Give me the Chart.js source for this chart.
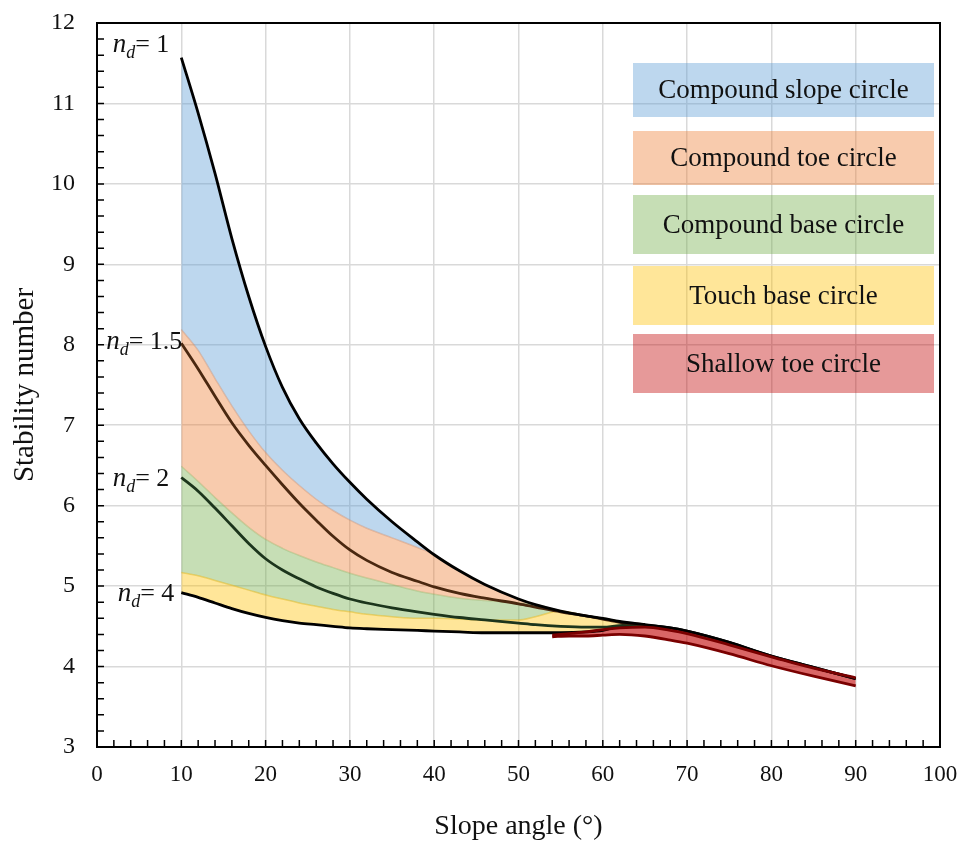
<!DOCTYPE html>
<html><head><meta charset="utf-8">
<script src="https://cdn.jsdelivr.net/npm/chart.js@4.4.1/dist/chart.umd.min.js"></script>
<style>html,body{margin:0;padding:0;background:#fff}#wrap{width:965px;height:843px;position:relative}</style>
</head><body><div id="wrap"><canvas id="c"></canvas></div>
<script>
// ---- data ----
const angles = [10,12,14,16,18,20,22,24,26,28,30,32,35,38,40,43,46,50,52,55,58,60,62,65,68,70,75,80,85,90];
// n_d = 1 curve (upper envelope, top of "Compound slope circle")
const nd1 = [11.57,10.88,10.13,9.32,8.6,7.98,7.47,7.08,6.78,6.52,6.29,6.08,5.8,5.55,5.39,5.19,5.02,4.84,4.77,4.69,4.63,4.6,4.56,4.52,4.48,4.44,4.3,4.13,3.99,3.85];
// lower edge of compound slope region / upper edge of compound toe region
const slopeLower = [8.19,7.93,7.58,7.24,6.93,6.66,6.44,6.25,6.08,5.94,5.82,5.72,5.6,5.48,5.39,5.19,5.02,4.84,4.77,4.69,4.63,4.6,4.56,4.52,4.48,4.44,4.3,4.13,3.99,3.85];
// lower edge of compound toe region / upper edge of compound base region
const toeLower = [6.49,6.3,6.1,5.91,5.73,5.58,5.47,5.38,5.3,5.23,5.16,5.1,5.02,4.94,4.9,4.85,4.82,4.79,4.77,4.69,4.63,4.6,4.56,4.52,4.48,4.44,4.3,4.13,3.99,3.85];
// lower edge of compound base region / upper edge of touch base region
const baseLower = [5.17,5.13,5.07,5.01,4.95,4.89,4.84,4.79,4.75,4.71,4.68,4.65,4.62,4.6,4.6,4.59,4.58,4.58,4.62,4.69,4.63,4.6,4.56,4.52,4.48,4.44,4.3,4.13,3.99,3.85];
// n_d = 4 curve (lower edge of touch base region)
const nd4 = [4.92,4.86,4.79,4.72,4.66,4.61,4.57,4.54,4.52,4.5,4.48,4.47,4.46,4.45,4.44,4.43,4.42,4.42,4.42,4.42,4.43,4.45,4.5,4.51,4.48,4.44,4.3,4.13,3.99,3.85];
// n_d = 1.5 and n_d = 2 curves (to x = 65)
const nd15 = [8.02,7.7,7.36,7.03,6.75,6.5,6.26,6.03,5.82,5.62,5.45,5.32,5.17,5.06,4.99,4.91,4.85,4.78,4.74,4.68,4.63,4.59,4.55,4.52];
const nd2 = [6.35,6.18,5.97,5.75,5.53,5.34,5.2,5.09,4.99,4.91,4.84,4.79,4.73,4.68,4.65,4.61,4.58,4.54,4.52,4.5,4.49,4.49,4.51,4.52];
// shallow toe circle band
const shallowAngles = [54,56,58,60,62,65,68,70,75,80,85,90];
const shallowUpper = [4.39,4.41,4.43,4.46,4.48,4.49,4.45,4.41,4.27,4.12,3.98,3.86];
const shallowLower = [4.37,4.38,4.38,4.39,4.4,4.38,4.33,4.29,4.16,4.01,3.88,3.76];

const xTickValues = [0,10,20,30,40,50,60,70,80,90,100];
const yTickValues = [3,4,5,6,7,8,9,10,11,12];
const legendLabels = ['Compound slope circle','Compound toe circle','Compound base circle','Touch base circle','Shallow toe circle'];
const ndLabels = ['1','1.5','2','4'];

// ---- styles ----
const SERIF = '"Liberation Serif", "Times New Roman", serif';
const C_BLUE = 'rgba(91,155,213,0.4)';
const C_ORANGE = 'rgba(237,125,49,0.4)';
const C_GREEN = 'rgba(112,173,71,0.4)';
const C_YELLOW = 'rgba(255,192,0,0.4)';
const C_RED = 'rgba(192,0,0,0.4)';

function pts(xs, ys){ return ys.map((v,i)=>({x:xs[i], y:v})); }

const base = {pointRadius:0, pointHoverRadius:0, cubicInterpolationMode:'monotone', fill:false};

const datasets = [
  Object.assign({}, base, {label:'shallowUpper', data:pts(shallowAngles, shallowUpper), borderColor:'#7a0000', borderWidth:2.8}),
  Object.assign({}, base, {label:'shallowLower', data:pts(shallowAngles, shallowLower), borderColor:'#7a0000', borderWidth:2.8, fill:0, backgroundColor:'rgba(192,0,0,0.6)'}),
  Object.assign({}, base, {label:'nd1', data:pts(angles, nd1), borderColor:'#000', borderWidth:2.8}),
  Object.assign({}, base, {label:'nd15', data:pts(angles, nd15), borderColor:'#4a2810', borderWidth:2.8}),
  Object.assign({}, base, {label:'nd2', data:pts(angles, nd2), borderColor:'#1c351c', borderWidth:2.8}),
  Object.assign({}, base, {label:'nd4', data:pts(angles, nd4), borderColor:'#000', borderWidth:2.8, fill:6, backgroundColor:C_YELLOW}),
  Object.assign({}, base, {label:'baseLower', data:pts(angles, baseLower), borderColor:'rgba(225,185,40,0.55)', borderWidth:1.5, fill:7, backgroundColor:C_GREEN}),
  Object.assign({}, base, {label:'toeLower', data:pts(angles, toeLower), borderColor:'rgba(150,170,90,0.35)', borderWidth:1.5, fill:8, backgroundColor:C_ORANGE}),
  Object.assign({}, base, {label:'slopeLower', data:pts(angles, slopeLower), borderColor:'rgba(200,140,110,0.4)', borderWidth:1.5, fill:2, backgroundColor:C_BLUE})
];

const decor = {
  id:'decor',
  afterDatasetsDraw(chart){
    const {ctx, chartArea:ca, scales} = chart;
    const xs = scales.x, ys = scales.y;
    ctx.save();
    // inward ticks
    ctx.strokeStyle = '#000'; ctx.lineWidth = 1.5;
    ctx.beginPath();
    for (let v = 0; v <= 100; v += 2){
      const px = xs.getPixelForValue(v);
      ctx.moveTo(px, ca.bottom); ctx.lineTo(px, ca.bottom - 7);
    }
    for (let i = 0; i <= 45; i++){
      const py = ys.getPixelForValue(3 + i*0.2);
      ctx.moveTo(ca.left, py); ctx.lineTo(ca.left + 7, py);
    }
    ctx.stroke();
    // frame
    ctx.lineWidth = 2;
    ctx.strokeRect(ca.left, ca.top, ca.right - ca.left, ca.bottom - ca.top);

    // legend boxes
    const boxes = [[63,117],[131,185],[195,254],[266,325],[334,393]];
    const cols = [C_BLUE, C_ORANGE, C_GREEN, C_YELLOW, C_RED];
    const bl = ca.left + 536, br = ca.left + 837;
    ctx.textAlign = 'center'; ctx.textBaseline = 'middle';
    ctx.font = '27px ' + SERIF;
    boxes.forEach((b,i)=>{
      ctx.fillStyle = cols[i];
      ctx.fillRect(bl, b[0], br - bl, b[1] - b[0]);
      ctx.fillStyle = '#111';
      ctx.fillText(legendLabels[i], (bl + br)/2, (b[0] + b[1])/2 + 1);
    });

    // n_d labels
    const starts = [nd1[0], nd15[0], nd2[0], nd4[0]];
    const dx = [-12, 1, -12, -7];
    const dy = [-14, -2, 0, 0];
    ctx.textAlign = 'left'; ctx.textBaseline = 'alphabetic';
    ndLabels.forEach((lab,i)=>{
      const rx = xs.getPixelForValue(angles[0]) + dx[i];
      const cy = ys.getPixelForValue(starts[i]) + dy[i];
      const baseY = cy + 8;
      const parts = [
        {t:'n', f:'italic 27px ' + SERIF, o:0},
        {t:'d', f:'italic 18px ' + SERIF, o:6},
        {t:'= ' + lab, f:'26px ' + SERIF, o:0}
      ];
      let w = 0;
      parts.forEach(p=>{ ctx.font = p.f; p.w = ctx.measureText(p.t).width; w += p.w; });
      let x0 = rx - w;
      ctx.fillStyle = '#111';
      parts.forEach(p=>{ ctx.font = p.f; ctx.fillText(p.t, x0, baseY + p.o); x0 += p.w; });
    });
    ctx.restore();
  }
};

new Chart(document.getElementById('c'), {
  type:'line',
  data:{datasets},
  options:{
    responsive:true, maintainAspectRatio:false, animation:false,
    layout:{padding:{top:23, right:25, left:0, bottom:0}},
    plugins:{legend:{display:false}, tooltip:{enabled:false}, filler:{drawTime:'beforeDatasetsDraw', propagate:false}},
    scales:{
      x:{type:'linear', min:0, max:100,
        afterFit(s){ s.height = 96; s.paddingLeft = 0; s.paddingRight = 0; },
        afterBuildTicks(s){ s.ticks = xTickValues.map(v=>({value:v})); },
        grid:{color:'#d9d9d9', lineWidth:1.5, drawTicks:false},
        border:{display:true, color:'#000', width:2},
        ticks:{padding:14, color:'#111', font:{family:SERIF, size:23}},
        title:{display:true, text:'Slope angle (°)', color:'#111', font:{family:SERIF, size:28}, padding:{top:0, bottom:0}}
      },
      y:{type:'linear', min:3, max:12,
        afterFit(s){ s.width = 97; s.paddingTop = 0; s.paddingBottom = 0; },
        afterBuildTicks(s){ s.ticks = yTickValues.map(v=>({value:v})); },
        grid:{color:'#d9d9d9', lineWidth:1.5, drawTicks:false},
        border:{display:true, color:'#000', width:2},
        ticks:{padding:22, color:'#111', font:{family:SERIF, size:24}},
        title:{display:true, text:'Stability number', color:'#111', font:{family:SERIF, size:29}, padding:{top:8, bottom:0}}
      }
    }
  },
  plugins:[decor]
});
</script>
</body></html>
